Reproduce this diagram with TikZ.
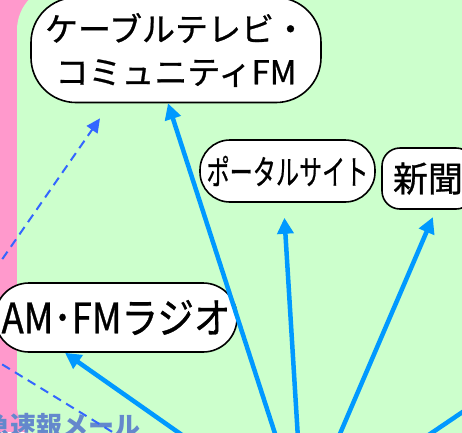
\documentclass[tikz,border=0pt]{standalone}
\usepackage{fontspec}
\usepackage{graphicx}
\usetikzlibrary{arrows.meta}
\newfontfamily\jp[FakeBold=0.8]{Noto Sans CJK JP}
\newfontfamily\jpalert{Noto Sans CJK JP}
\definecolor{bgpink}{HTML}{FF99CC}
\definecolor{bggreen}{HTML}{CCFFCC}
\definecolor{arrowblue}{HTML}{0099FF}
\definecolor{dashblue}{HTML}{3366FF}
\definecolor{alertblue}{RGB}{100,136,204}
\tikzset{ box/.style = { rectangle % media box
        , draw = black
        , line width = 1.6pt
        , fill = white
        , inner sep = 0pt
        , align = center
        , font = \jp
        }
        , alert_text/.style = { inner sep = 0pt % cut off label
        , text = alertblue
        , font = \jpalert\bfseries\fontsize{26}{30}\selectfont
        }
        }

\begin{document}
\begin{tikzpicture}[x=1pt, y=-1pt,
        edge_style/.style={draw=arrowblue, line width=4.5pt, -{Triangle[length=16pt,width=16pt]}},
        dash_style/.style={draw=dashblue, line width=2pt, dash pattern=on 9pt off 6pt, -{Triangle[length=14pt,width=13pt]}}]
        \useasboundingbox (0,0) rectangle (462,432);
        \clip (0,0) rectangle (462,432);
        \fill [bgpink] (0,0) rectangle (462,432);
        \fill [bggreen, rounded corners=45pt] (17,-15) rectangle (540,450);

        \node [alert_text, anchor=base east] (alert) at (141,435) {緊急速報メール};

        \node [box, minimum width=290pt, minimum height=105pt, rounded corners=45pt,
            font=\jp\fontsize{33}{43}\selectfont] (cable) at (176,50) {ケーブルテレビ・\\コミュニティFM};
        \node [box, minimum width=175pt, minimum height=62pt, rounded corners=30pt,
            font=\jp\fontsize{34}{38}\selectfont] (portal) at (287.5,171) {\scalebox{0.68}[1]{ポータルサイト}};
        \node [box, minimum width=92pt, minimum height=61pt, rounded corners=18pt,
            font=\jp\fontsize{35}{38}\selectfont] (paper) at (428,178.5) {新聞};
        \node [box, minimum width=242pt, minimum height=69pt, rounded corners=34pt,
            font=\jp\fontsize{42}{44}\selectfont] (radio) at (116,317.5) {\scalebox{0.87}[1]{AM･FMラジオ}};

        % sources below and left of the frame
        \coordinate (hub) at (303,520);
        \coordinate (offright) at (628,300);
        \coordinate (lefthub) at (-49,333);
        \coordinate (offbottom) at (220,498);

        \draw [dash_style] (lefthub) -- ([xshift=-76pt,yshift=-15pt]cable.south);
        \draw [dash_style] (lefthub) -- (offbottom);

        \draw [edge_style] (hub) -- ([xshift=-8pt]cable.south);
        \draw [edge_style, shorten >=15pt] (hub) -- ([xshift=-4pt]portal.south);
        \draw [edge_style, shorten >=8pt] (hub) -- ([xshift=8pt]paper.south);
        \draw [edge_style] (hub) -- ([xshift=-51pt]radio.south);
        \draw [edge_style] (hub) -- (offright);
\end{tikzpicture}
\end{document}
